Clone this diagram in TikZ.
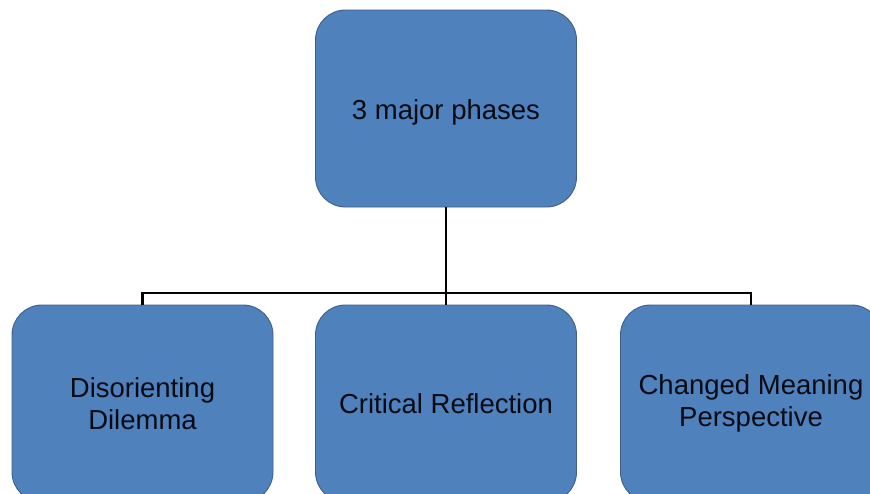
\documentclass[tikz,border=0pt]{standalone}
\usepackage{fontspec}
\setmainfont{Liberation Sans}
\definecolor{boxfill}{HTML}{4F81BD}
\definecolor{boxline}{HTML}{3F5F86}
\definecolor{txt}{HTML}{050A12}
\begin{document}
\begin{tikzpicture}[x=1pt,y=-1pt,
  phase/.style={draw=boxline, line width=0.9pt, fill=boxfill, rounded corners=30pt,
    minimum width=261pt, minimum height=197pt, inner sep=0pt, align=center,
    text=txt, font=\fontsize{27.5}{32}\selectfont},
  conn/.style={draw=black, line width=2.2pt}]
\useasboundingbox (0,0) rectangle (870,493);
\clip (0,0) rectangle (870,493);
\node[phase] (top) at (446,108.5) {\raisebox{-10.5pt}[0pt][0pt]{3 major phases}};
\node[phase] (left) at (142.5,403.5) {Disorienting\\Dilemma};
\node[phase] (mid) at (446,403.5) {Critical Reflection};
\node[phase] (right) at (751,403.5) {Changed Meaning\\Perspective};
\coordinate (bus) at (446,293);
\draw[conn] (top.south) -- (mid.north);
\draw[conn] (left.north) |- (bus) -| (right.north);
\end{tikzpicture}
\end{document}
